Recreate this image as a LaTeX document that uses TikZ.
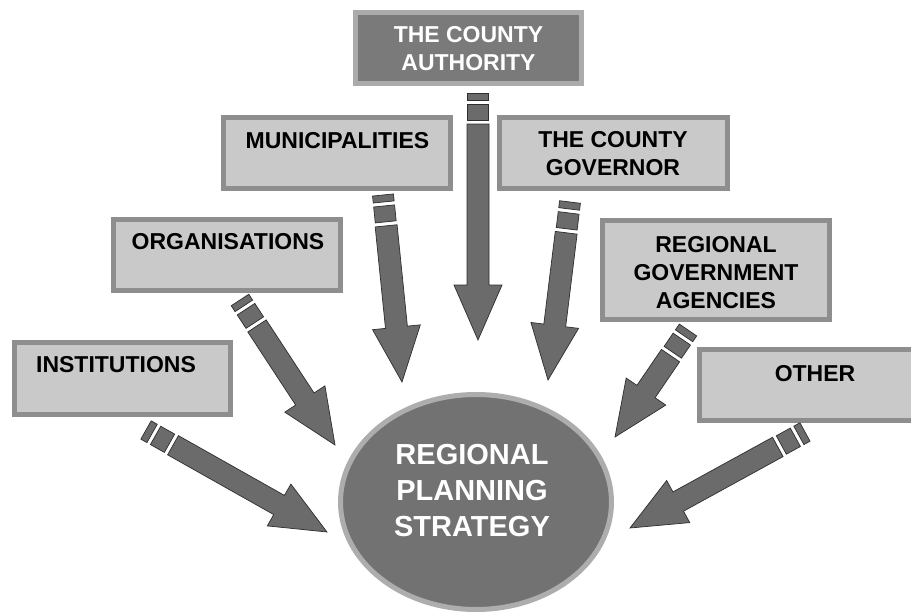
\documentclass[tikz,border=0pt]{standalone}
\usepackage{fontspec}
\setmainfont{Liberation Sans}
\usetikzlibrary{calc,shapes.geometric}
\definecolor{boxfill}{HTML}{C9C9C9}
\definecolor{boxline}{HTML}{8E8E8E}
\definecolor{darkfill}{HTML}{7A7A7A}
\definecolor{darkline}{HTML}{ABABAB}
\definecolor{arrfill}{HTML}{6B6B6B}
\definecolor{arrline}{HTML}{2E2E2E}
\definecolor{circfill}{HTML}{727272}
\definecolor{circline}{HTML}{ADADAD}
\tikzset{
  lightbox/.style={draw=boxline, fill=boxfill, line width=4.5pt, inner sep=0pt},
  darkbox/.style={draw=darkline, fill=darkfill, line width=4.5pt, inner sep=0pt},
  boxtext/.style={font=\bfseries\fontsize{23}{28}\selectfont, align=center, inner sep=0pt, text=black},
  whitetext/.style={boxtext, text=white},
  arrpart/.style={fill=arrfill, draw=arrline, line width=0.7pt, line join=miter},
}
\newcommand\fatarrow[2]{%
  \pgfmathanglebetweenpoints{\pgfpointanchor{#1}{center}}{\pgfpointanchor{#2}{center}}%
  \let\myang\pgfmathresult
  \pgfpointdiff{\pgfpointanchor{#1}{center}}{\pgfpointanchor{#2}{center}}%
  \pgfgetlastxy{\mydx}{\mydy}%
  \pgfmathsetmacro\mylen{veclen(\mydx,\mydy)}%
  \begin{scope}[shift={(#1)}, rotate=\myang, x=1pt, y=1pt]
    \filldraw[arrpart] (0,-10.5) rectangle (7,10.5);
    \filldraw[arrpart] (11,-10.5) rectangle (27,10.5);
    \filldraw[arrpart] (31,-11) -- (\mylen-55,-11) -- (\mylen-55,-24) -- (\mylen,0)
      -- (\mylen-55,24) -- (\mylen-55,11) -- (31,11) -- cycle;
  \end{scope}}
\begin{document}
\begin{tikzpicture}[x=1pt, y=-1pt]
\useasboundingbox[fill=white] (0,0) rectangle (911,613);
% boxes
\node[darkbox, minimum width=226pt, minimum height=71pt] (bauth) at (468.5,48) {};
\node[lightbox, minimum width=227pt, minimum height=71pt] (bmun) at (337,153) {};
\node[lightbox, minimum width=228pt, minimum height=71pt] (bgov) at (613.5,153) {};
\node[lightbox, minimum width=227pt, minimum height=71pt] (borg) at (227,255) {};
\node[lightbox, minimum width=227pt, minimum height=99pt] (breg) at (716,270) {};
\node[lightbox, minimum width=217pt, minimum height=71pt] (bother) at (808,385) {};
\node[lightbox, minimum width=216pt, minimum height=72pt] (binst) at (122.5,378.5) {};
% texts
\node[whitetext] (tauth) at (468.5,49) {THE COUNTY\\AUTHORITY};
\node[boxtext] (tmun) at (337.5,141) {MUNICIPALITIES};
\node[boxtext] (tgov) at (613,154) {THE COUNTY\\GOVERNOR};
\node[boxtext] (torg) at (228,242) {ORGANISATIONS};
\node[boxtext] (treg) at (716,272.5) {REGIONAL\\GOVERNMENT\\AGENCIES};
\node[boxtext] (tother) at (815,374) {OTHER};
\node[boxtext] (tinst) at (116,365) {INSTITUTIONS};
% circle
\node[ellipse, draw=circline, fill=circfill, line width=5pt, minimum width=271pt, minimum height=215pt, inner sep=0pt] (circ) at (476,502) {};
\node[font=\bfseries\fontsize{29}{36}\selectfont, text=white, align=center, inner sep=0pt] (tcirc) at (472,491) {REGIONAL\\PLANNING\\STRATEGY};
% arrow coordinates
\coordinate (s1) at (146,430); \coordinate (e1) at (327,532);
\coordinate (s2) at (240,300); \coordinate (e2) at (335,445);
\coordinate (s3) at (383,195); \coordinate (e3) at (402,382);
\coordinate (s4) at (478,93);  \coordinate (e4) at (478,340);
\coordinate (s5) at (570,202); \coordinate (e5) at (548,380);
\coordinate (s6) at (688,330); \coordinate (e6) at (615,437);
\coordinate (s7) at (805,432); \coordinate (e7) at (630,528);
\fatarrow{s1}{e1}
\fatarrow{s2}{e2}
\fatarrow{s3}{e3}
\fatarrow{s4}{e4}
\fatarrow{s5}{e5}
\fatarrow{s6}{e6}
\fatarrow{s7}{e7}
\end{tikzpicture}
\end{document}
